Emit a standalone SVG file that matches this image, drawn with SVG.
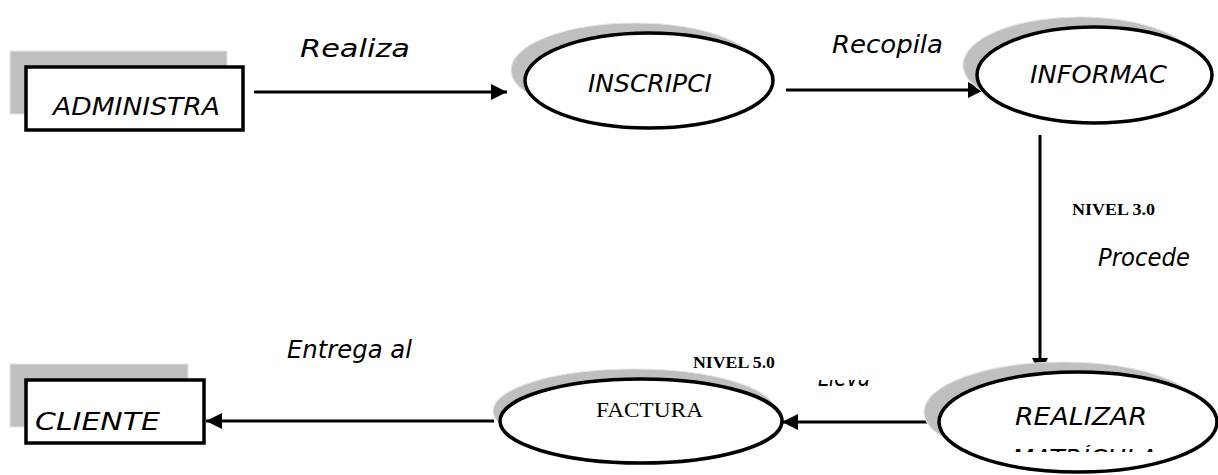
<svg xmlns="http://www.w3.org/2000/svg" width="1218" height="475" viewBox="0 0 1218 475">
<style>
.bg{fill:#fff}
.sh{fill:#bfbfbf;stroke:#e4e4e4;stroke-width:1.2}
.box{fill:#fff;stroke:#000;stroke-width:3.5}
.ell{fill:#fff;stroke:#000;stroke-width:3.5}
.c{font-family:"DejaVu Sans",sans-serif;font-style:oblique;font-size:24px;fill:#000}
.s{font-family:"Liberation Serif",serif;fill:#000}
.b{font-weight:bold;font-size:17.5px}
.edge{stroke:#000;stroke-width:3;fill:none}
</style>
<defs>
<marker id="ah" viewBox="0 0 16 16" refX="16" refY="8" markerWidth="16" markerHeight="16" markerUnits="userSpaceOnUse" orient="auto">
<path d="M0,0 L16,8 L0,16 z" fill="#000"/>
</marker>
<clipPath id="clipM"><rect x="990" y="445" width="190" height="7"/></clipPath>
<clipPath id="clipL"><rect x="800" y="380" width="100" height="6"/></clipPath>
</defs>
<rect class="bg" x="0" y="0" width="1218" height="475"/>

<g id="connectors">
<line class="edge" x1="254" y1="92" x2="507" y2="92" marker-end="url(#ah)"/>
<line class="edge" x1="786" y1="90" x2="984" y2="90" marker-end="url(#ah)"/>
<line class="edge" x1="1040" y1="135" x2="1040" y2="374" marker-end="url(#ah)"/>
<line class="edge" x1="934" y1="422" x2="782" y2="422" marker-end="url(#ah)"/>
<line class="edge" x1="494" y1="421" x2="206" y2="421" marker-end="url(#ah)"/>
<text class="c" x="300" y="57" textLength="110" lengthAdjust="spacingAndGlyphs">Realiza</text>
<text class="c" x="832" y="53" textLength="111" lengthAdjust="spacingAndGlyphs">Recopila</text>
<text class="s b" x="1072" y="215" textLength="83" lengthAdjust="spacingAndGlyphs">NIVEL 3.0</text>
<text class="c" x="1098" y="266" textLength="92" lengthAdjust="spacingAndGlyphs">Procede</text>
<text class="c" x="287" y="358" textLength="125" lengthAdjust="spacingAndGlyphs">Entrega al</text>
<text class="s b" x="693" y="368" textLength="82" lengthAdjust="spacingAndGlyphs">NIVEL 5.0</text>
<g clip-path="url(#clipL)"><text class="c" x="818" y="386" textLength="52" lengthAdjust="spacingAndGlyphs">Lleva</text></g>
</g>

<g id="n-administra">
<rect class="sh" x="10" y="51" width="217" height="63"/>
<rect class="box" x="26" y="67" width="217" height="63"/>
<text class="c" x="53" y="115" textLength="167" lengthAdjust="spacingAndGlyphs">ADMINISTRA</text>
</g>

<g id="n-inscripci">
<ellipse class="sh" cx="635" cy="70" rx="124" ry="47"/>
<ellipse class="ell" cx="649" cy="80.5" rx="124" ry="47.5"/>
<text class="c" x="588" y="92" textLength="124" lengthAdjust="spacingAndGlyphs">INSCRIPCI</text>
</g>

<g id="n-informac">
<ellipse class="sh" cx="1080" cy="65" rx="117" ry="48"/>
<ellipse class="ell" cx="1094.5" cy="75" rx="117.5" ry="48"/>
<text class="c" x="1030" y="83" textLength="137" lengthAdjust="spacingAndGlyphs">INFORMAC</text>
</g>

<g id="n-realizar">
<ellipse class="sh" cx="1063" cy="412" rx="139" ry="50"/>
<ellipse class="ell" cx="1078" cy="422" rx="139" ry="50"/>
<text class="c" x="1015" y="425" textLength="132" lengthAdjust="spacingAndGlyphs">REALIZAR</text>
<g clip-path="url(#clipM)"><text class="c" x="1012" y="467" textLength="145" lengthAdjust="spacingAndGlyphs">MATRÍCULA</text></g>
</g>

<g id="n-factura">
<ellipse class="sh" cx="634" cy="411" rx="141" ry="42"/>
<ellipse class="ell" cx="641" cy="421" rx="141" ry="42"/>
<text class="s" x="596" y="417" font-size="21" textLength="107" lengthAdjust="spacingAndGlyphs">FACTURA</text>
</g>

<g id="n-cliente">
<rect class="sh" x="10" y="364" width="178" height="63"/>
<rect class="box" x="26" y="380" width="178" height="63"/>
<text class="c" x="35" y="430" textLength="125" lengthAdjust="spacingAndGlyphs">CLIENTE</text>
</g>
</svg>
